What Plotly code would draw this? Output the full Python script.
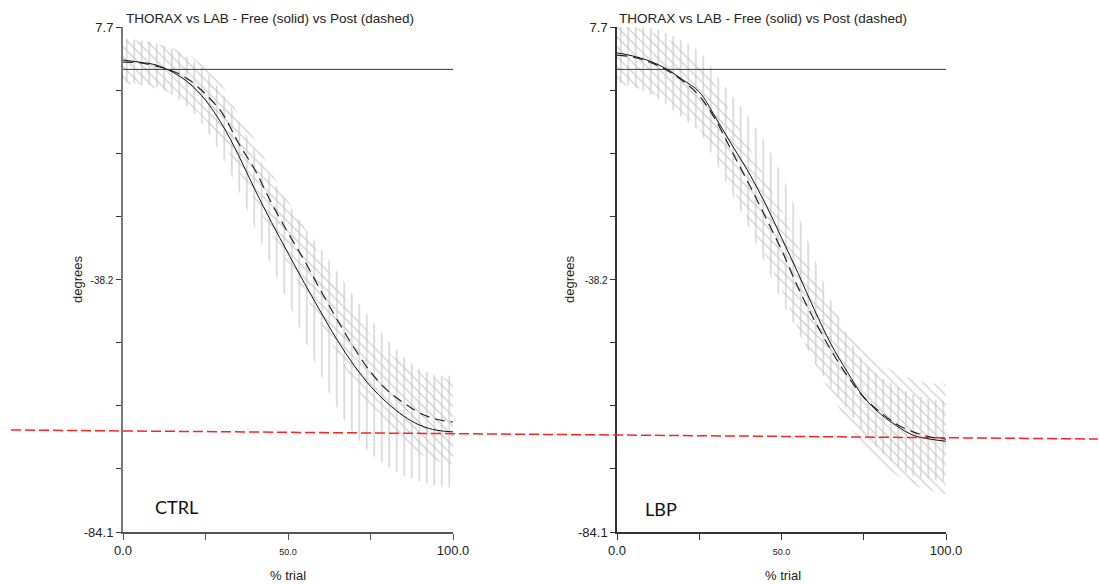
import plotly.graph_objects as go

# ---------------- data ----------------
pct = [0, 5, 10, 15, 20, 25, 30, 35, 40, 45, 50, 55, 60, 65, 70, 75, 80, 85, 90, 95, 100]

ctrl_free = [1.7, 1.3, 0.8, -0.5, -2.5, -5.6, -10.0, -15.6, -21.9, -27.8, -33.4, -38.9, -44.2,
             -49.3, -53.8, -57.6, -60.6, -63.0, -64.7, -65.6, -65.9]
ctrl_free_sd = [4.0, 4.0, 4.0, 4.2, 4.6, 5.2, 5.8, 6.4, 7.0, 8.0, 9.0, 10.2, 11.5,
                12.4, 12.5, 12.2, 11.5, 10.8, 10.2, 10.0, 9.8]
ctrl_post = [1.3, 1.2, 0.6, -0.3, -1.9, -4.5, -7.9, -13.4, -18.3, -24.3, -29.7, -34.8, -40.3,
             -45.6, -50.6, -55.0, -58.3, -60.6, -62.5, -63.6, -64.1]
ctrl_post_sd = [4.0, 4.0, 4.1, 4.2, 4.5, 4.7, 5.0, 5.2, 5.5, 5.6, 5.8, 6.0, 6.0,
                6.2, 6.5, 6.8, 7.0, 7.2, 7.4, 7.5, 7.6]

lbp_free = [3.0, 2.4, 1.5, 0.1, -1.9, -4.1, -8.8, -13.8, -18.7, -24.3, -30.6, -37.0, -43.7,
            -49.9, -55.0, -59.6, -62.6, -64.8, -66.5, -67.2, -67.6]
lbp_free_sd = [5.3, 5.5, 6.0, 6.5, 7.0, 7.3, 8.0, 9.0, 10.0, 11.0, 11.5, 10.7, 9.4,
               8.0, 6.8, 6.5, 6.8, 7.2, 7.4, 7.2, 7.0]
lbp_post = [2.6, 2.2, 1.3, -0.1, -2.1, -4.8, -9.2, -15.0, -20.7, -26.7, -32.8, -39.6, -45.6,
            -51.0, -55.7, -59.6, -62.3, -64.5, -65.9, -66.8, -67.2]
lbp_post_sd = [5.3, 5.4, 5.5, 5.7, 5.9, 6.0, 6.2, 6.5, 6.8, 7.0, 7.2, 7.5, 7.8,
               8.0, 8.3, 8.7, 9.0, 9.3, 9.6, 9.7, 9.8]

ref_level = [0.0, 0.0]
ref_x = [0, 100]

y_tickvals = [7.7, -3.775, -15.25, -26.725, -38.2, -49.675, -61.15, -72.625, -84.1]
y_ticktext = ["7.7", "", "", "", '<span style="font-size:10px">-38.2</span>', "", "", "", "-84.1"]
x_tickvals = [0, 25, 50, 75, 100]
x_ticktext = ["0.0", "", '<span style="font-size:9px">50.0</span>', "", "100.0"]

title_text = "THORAX vs LAB - Free (solid) vs Post (dashed)"
panel_labels = ["CTRL", "LBP"]

# ---------------- figure ----------------
fig = go.Figure()
HATCH = "#c6c6c6"


def band(mean, sd, shape, size, xa, ya):
    up = [m + s for m, s in zip(mean, sd)]
    lo = [m - s for m, s in zip(mean, sd)]
    fig.add_trace(go.Scatter(
        x=pct + pct[::-1], y=up + lo[::-1], xaxis=xa, yaxis=ya,
        mode="lines", line=dict(width=0, shape="spline"), fill="toself",
        fillcolor="rgba(0,0,0,0)",
        fillpattern=dict(shape=shape, size=size, solidity=0.16, fgcolor=HATCH,
                         bgcolor="rgba(0,0,0,0)", fillmode="replace"),
        hoverinfo="skip", showlegend=False))


panels = [
    (ctrl_free, ctrl_free_sd, ctrl_post, ctrl_post_sd, "x", "y"),
    (lbp_free, lbp_free_sd, lbp_post, lbp_post_sd, "x2", "y2"),
]
for free, free_sd, post, post_sd, xa, ya in panels:
    band(post, post_sd, "\\", 7, xa, ya)
    band(free, free_sd, "|", 7.5, xa, ya)
    fig.add_trace(go.Scatter(x=ref_x, y=ref_level, xaxis=xa, yaxis=ya, mode="lines",
                             line=dict(color="#333333", width=1), showlegend=False))
    fig.add_trace(go.Scatter(x=pct, y=post, xaxis=xa, yaxis=ya, mode="lines",
                             line=dict(color="#222222", width=1.2, dash="10px,6px", shape="spline"),
                             showlegend=False))
    fig.add_trace(go.Scatter(x=pct, y=free, xaxis=xa, yaxis=ya, mode="lines",
                             line=dict(color="#111111", width=1, shape="spline"),
                             showlegend=False))

ydom = [1 - 532 / 584, 1 - 27 / 584]
xdom1 = [123 / 1099, 453 / 1099]
xdom2 = [617 / 1099, 946 / 1099]

common_x = dict(range=[0, 100], tickvals=x_tickvals, ticktext=x_ticktext, ticks="outside",
                ticklen=6, tickwidth=1.3, showline=True, showgrid=False, zeroline=False,
                tickfont=dict(size=13, color="#222"), automargin=False)
common_y = dict(range=[-84.1, 7.7], tickvals=y_tickvals, ticktext=y_ticktext, ticks="outside",
                ticklen=5, tickwidth=1.3, showline=True, showgrid=False, zeroline=False,
                tickfont=dict(size=13, color="#222"), domain=ydom, automargin=False)

fig.update_layout(
    width=1099, height=584, autosize=False,
    margin=dict(l=0, r=0, t=0, b=0, pad=0, autoexpand=False),
    paper_bgcolor="white", plot_bgcolor="white", showlegend=False,
    font=dict(family="Liberation Sans, Arial, sans-serif", color="#222"),
    xaxis=dict(domain=xdom1, anchor="y", linecolor="#555", tickcolor="#555", linewidth=1.5, **common_x),
    yaxis=dict(anchor="x", linecolor="#7a7a7a", tickcolor="#333", linewidth=2, **common_y),
    xaxis2=dict(domain=xdom2, anchor="y2", linecolor="#333", tickcolor="#333", linewidth=1.5, **common_x),
    yaxis2=dict(anchor="x2", linecolor="#333", tickcolor="#333", linewidth=1.5, **common_y),
)

ann = []
for xl, xc_deg, xc_trial, xlab, ylab, lab in [
    (125, 78, 288, 154, 507, panel_labels[0]),
    (618, 570, 783, 644, 509, panel_labels[1]),
]:
    ann.append(dict(x=xl / 1099, y=1 - 18 / 584, xref="paper", yref="paper", text=title_text,
                    showarrow=False, xanchor="left", yanchor="middle", borderpad=0,
                    font=dict(size=13.5, color="#222")))
    ann.append(dict(x=xc_deg / 1099, y=1 - 280 / 584, xref="paper", yref="paper", text="degrees",
                    showarrow=False, xanchor="center", yanchor="middle", textangle=-90,
                    borderpad=0, font=dict(size=13, color="#222")))
    ann.append(dict(x=xc_trial / 1099, y=0, xref="paper", yref="paper", text="% trial",
                    showarrow=False, xanchor="center", yanchor="bottom", borderpad=0,
                    font=dict(size=13, color="#222")))
    ann.append(dict(x=xlab / 1099, y=1 - ylab / 584, xref="paper", yref="paper", text=lab,
                    showarrow=False, xanchor="left", yanchor="middle", borderpad=0,
                    font=dict(size=18, color="#111", family="Lato, Open Sans, sans-serif")))
fig.update_layout(annotations=ann)

fig.add_shape(type="line", xref="paper", yref="paper",
              x0=11 / 1099, y0=1 - 430 / 584, x1=0.999, y1=1 - 439 / 584,
              line=dict(color="#ff2020", width=1.5, dash="10px,4px"))

fig.write_html("out.html")
